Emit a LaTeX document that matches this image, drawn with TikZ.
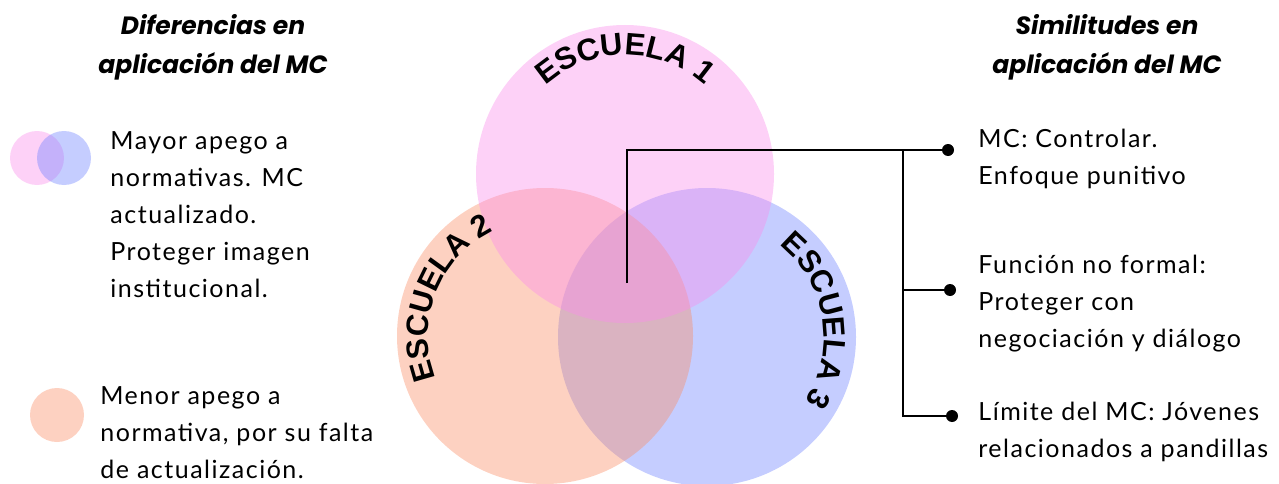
\documentclass[tikz,border=0pt]{standalone}
\usepackage{fontspec}
\setmainfont{Lato}[LetterSpace=6]
\newfontfamily\escfont{Liberation Sans}
\newfontfamily\cabfont{Poppins}
\usetikzlibrary{decorations.text}

\definecolor{rosa}{RGB}{250,140,235}
\definecolor{naranja}{RGB}{250,140,100}
\definecolor{azul}{RGB}{110,130,255}

\tikzset{
  venn/.style={fill=#1, fill opacity=0.4, draw=none},
  cabecera/.style={font=\cabfont\fontsize{12.5}{19.5}\selectfont\bfseries\itshape, align=center},
  cuerpo/.style={font=\fontsize{12.5}{18.5}\selectfont, align=left, anchor=west, inner sep=0pt},
  rama/.style={line width=1.4pt},
  punto/.style={circle, fill=black, inner sep=0pt, minimum size=6pt},
  escuela/.style={decorate, decoration={text along path, text align=center,
      text={|\escfont\bfseries\fontsize{15.5}{15.5}\selectfont|#1}}},
}

\begin{document}
\begin{tikzpicture}[x=0.5pt, y=0.5pt]
  \useasboundingbox (0,0) rectangle (1279,483);

  %%%%% VENN %%%%%
  \coordinate (e1) at (625,309);
  \coordinate (e2) at (545,147);
  \coordinate (e3) at (707,146);
  \fill[venn=azul] (e3) circle (149);
  \fill[venn=naranja] (e2) circle (148);
  \fill[venn=rosa] (e1) circle (149);

  \path[escuela={ESCUELA 1}] (e1) ++(150:119) arc[start angle=150, end angle=30, radius=119];
  \path[escuela={ESCUELA 2}] (e2) ++(212:117) arc[start angle=212, end angle=105, radius=117];
  \path[escuela={ESCUELA 3}] (e3) ++(64:117) arc[start angle=64, end angle=-46, radius=117];

  %%%%% CABECERAS %%%%%
  \node[cabecera] (dif) at (213,435.5) {Diferencias en\\aplicación del MC};
  \node[cabecera] (sim) at (1107,435.5) {Similitudes en\\aplicación del MC};

  %%%%% LEYENDA %%%%%
  \fill[venn=rosa] (37,325) circle (27);
  \fill[venn=azul] (64,325) circle (27);
  \fill[venn=naranja] (57,68) circle (27);

  \node[cuerpo] (d1) at (110,268) {Mayor apego a\\normativas. MC\\actualizado.\\Proteger imagen\\institucional.};
  \node[cuerpo] (d2) at (100,50.3) {Menor apego a\\normativa, por su falta\\de actualización.};

  %%%%% SIMILITUDES %%%%%
  \coordinate (centro) at (627,200);
  \coordinate (codo) at (627,333);
  \coordinate (tronco) at (903,333);
  \node[punto] (p1) at (948,333) {};
  \node[punto] (p2) at (950,193) {};
  \node[punto] (p3) at (952,67) {};
  \draw[rama] (centro) -- (codo) -- (p1.center);
  \draw[rama] (tronco) |- (p3.center);
  \draw[rama] (tronco |- p2) -- (p2.center);

  \node[cuerpo] (s1) at (978,324.5) {MC: Controlar.\\Enfoque punitivo};
  \node[cuerpo] (s2) at (978,179.5) {Función no formal:\\Proteger con\\negociación y diálogo};
  \node[cuerpo] (s3) at (978,51.5) {Límite del MC: Jóvenes\\relacionados a pandillas};
\end{tikzpicture}
\end{document}
